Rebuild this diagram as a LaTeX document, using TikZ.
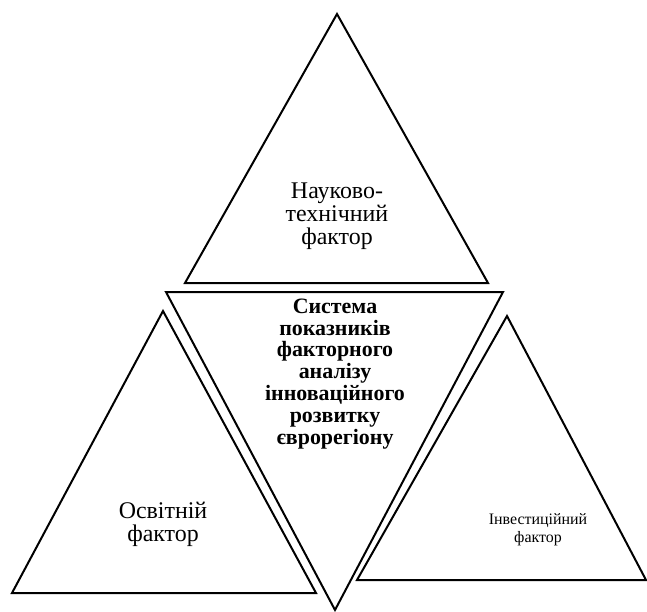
\documentclass[tikz,border=0pt]{standalone}
\usepackage{fontspec}
\setmainfont{Liberation Serif}
\begin{document}
\begin{tikzpicture}[x=1bp,y=-1bp]
 \tikzset{factor/.style={line width=2bp, line join=miter},
          txt/.style={align=center, inner sep=0pt, font=\fontsize{24}{23}\selectfont}}
  \useasboundingbox (0,0) rectangle (647,612);
  \draw[factor] (337,14) -- (488,283) -- (185,283) -- cycle;
  \draw[factor] (166,292) -- (503,292) -- (335,610) -- cycle;
  \draw[factor] (163,311) -- (316,593) -- (12,593) -- cycle;
  \draw[factor] (507,316) -- (646,580) -- (357,580) -- cycle;
  \node[txt] (N) at (337,216) {Науково-\\технічний\\фактор};
  \node[txt, font=\fontsize{22}{22}\selectfont\bfseries] (S) at (335,374) {Система\\показників\\факторного\\аналізу\\інноваційного\\розвитку\\єврорегіону};
  \node[txt] (O) at (163,524) {Освітній\\фактор};
  \node[txt, font=\fontsize{16}{18}\selectfont] (I) at (538,530) {Інвестиційний\\фактор};
\end{tikzpicture}
\end{document}
